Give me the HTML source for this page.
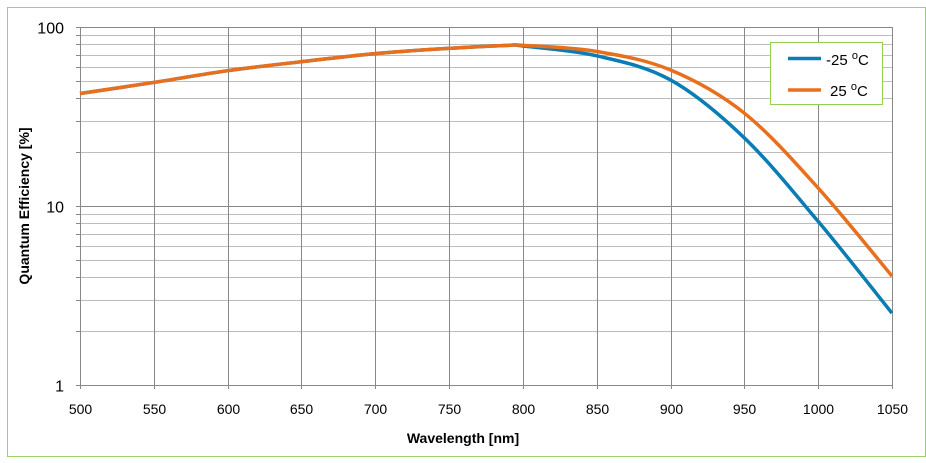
<!DOCTYPE html>
<html><head><meta charset="utf-8"><style>
body{margin:0;background:#fff;}
svg text{font-family:"Liberation Sans",sans-serif;}
</style></head><body>
<svg id="s" width="926" height="458" xmlns="http://www.w3.org/2000/svg">
<rect x="7.5" y="7.5" width="918" height="449" fill="#fff" stroke="#9bd06a" stroke-width="1"/>
<g id="grid"></g>
<g id="curves"></g>
<rect x="770.5" y="42.5" width="112" height="62" fill="#fff" stroke="#92d050" stroke-width="1"/>
<line x1="788" y1="58.5" x2="821" y2="58.5" stroke="#0a7db5" stroke-width="3.5"/>
<line x1="788" y1="90" x2="821" y2="90" stroke="#e8701d" stroke-width="3.5"/>
<text x="826" y="65" font-size="15">-25 <tspan font-size="11" dy="-6">o</tspan><tspan dy="6">C</tspan></text>
<text x="830" y="96" font-size="15">25 <tspan font-size="11" dy="-6">o</tspan><tspan dy="6">C</tspan></text>
<text x="463" y="443" font-size="14" font-weight="bold" text-anchor="middle">Wavelength [nm]</text>
<text transform="translate(29,206) rotate(-90)" font-size="14" font-weight="bold" text-anchor="middle">Quantum Efficiency [%]</text>
</svg>
<script>
const ns="http://www.w3.org/2000/svg";
const X=w=>80+(w-500)*812/550, Y=v=>27+(2-Math.log10(v))*179;
const g=document.getElementById('grid');
function el(p,t,a){const e=document.createElementNS(ns,t);for(const k in a)e.setAttribute(k,a[k]);p.appendChild(e);return e;}
for(let d=0;d<2;d++)for(let m=2;m<=9;m++){const y=Math.round(Y(m*Math.pow(10,d)))+0.5;el(g,'line',{x1:80,x2:892,y1:y,y2:y,stroke:'#bdbdbd','stroke-width':1});el(g,'line',{x1:76,x2:80,y1:y,y2:y,stroke:'#888'});}
for(let w=500;w<=1050;w+=50){const x=Math.round(X(w))+0.5;el(g,'line',{x1:x,x2:x,y1:27,y2:389,stroke:'#888','stroke-width':1});
const t=el(g,'text',{x:x,y:414,'font-size':14,'text-anchor':'middle'});t.textContent=w;}
[1,10,100].forEach(v=>{const y=Math.round(Y(v))+0.5;el(g,'line',{x1:76,x2:892,y1:y,y2:y,stroke:'#888','stroke-width':1});
const t=el(g,'text',{x:64,y:y+6,'font-size':16,'text-anchor':'end'});t.textContent=v;});
el(g,'line',{x1:80.5,x2:80.5,y1:27,y2:385,stroke:'#888'});
const ora=[[500,42.5],[550,49],[600,57],[650,64],[700,71],[750,76],[790,79],[800,79],[850,73],[900,57.5],[950,33],[1000,12.6],[1050,4.06]];
const blu=[[500,42.5],[550,49],[600,57],[650,64],[700,71],[750,76],[790,79],[800,78.3],[850,69],[900,50.6],[950,24],[1000,8.2],[1050,2.52]];
function path(d){const p=d.map(([w,v])=>[X(w),Y(v)]);let s='M'+p[0][0]+' '+p[0][1];
for(let i=0;i<p.length-1;i++){const a=p[i-1]||p[i],b=p[i],c=p[i+1],e=p[i+2]||c;
s+=` C${b[0]+(c[0]-a[0])/6} ${b[1]+(c[1]-a[1])/6} ${c[0]-(e[0]-b[0])/6} ${c[1]-(e[1]-b[1])/6} ${c[0]} ${c[1]}`;}return s;}
const c=document.getElementById('curves');
el(c,'path',{d:path(blu),fill:'none',stroke:'#0a7db5','stroke-width':3.5});
el(c,'path',{d:path(ora),fill:'none',stroke:'#e8701d','stroke-width':3.5});
</script>
</body></html>
